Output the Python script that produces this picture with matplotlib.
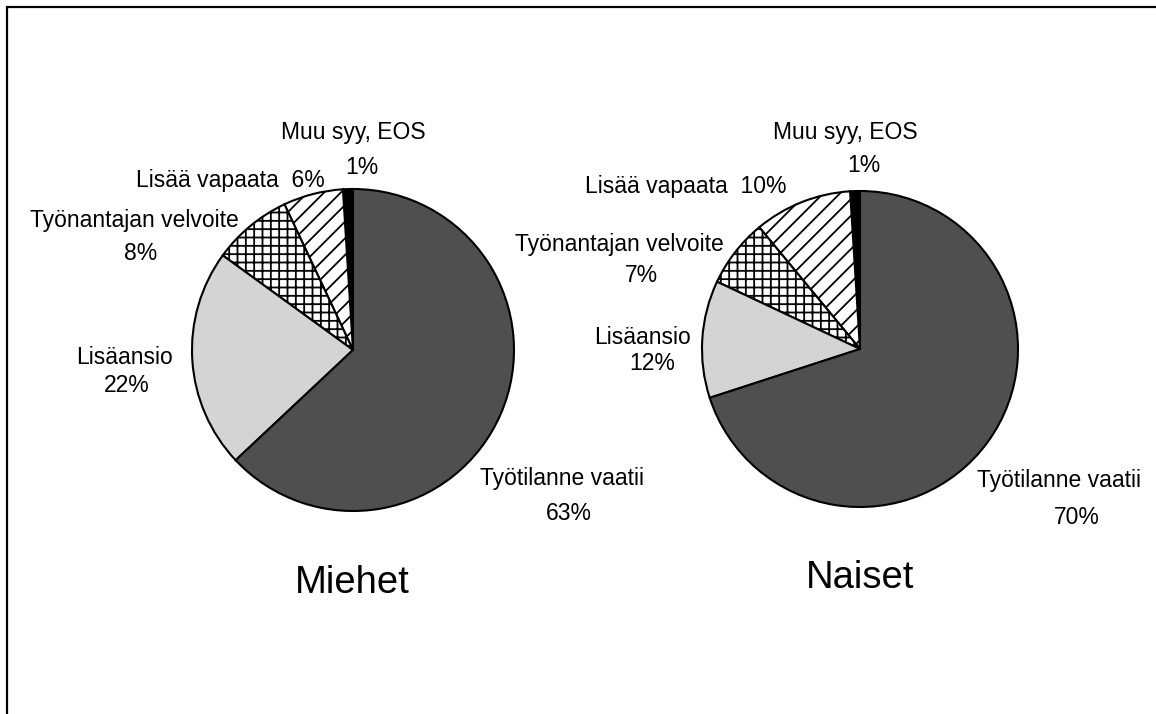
import matplotlib
matplotlib.use("Agg")
import matplotlib.pyplot as plt

# ---- data ----
categories = ["Muu syy, EOS", "Lisää vapaata", "Työnantajan velvoite", "Lisäansio", "Työtilanne vaatii"]
miehet = [1, 6, 8, 22, 63]
naiset = [1, 10, 7, 12, 70]
titles = ["Miehet", "Naiset"]

# ---- styles ----
facecolors = ["black", "white", "white", "#d4d4d4", "#4f4f4f"]
hatches = [None, "//", "++", None, None]

plt.rcParams["font.family"] = ["Liberation Sans", "DejaVu Sans"]
plt.rcParams["hatch.linewidth"] = 1.3

W, H = 1156, 714
fig = plt.figure(figsize=(W / 100, H / 100), dpi=100)
ax = fig.add_axes([0, 0, 1, 1])

def py(y):
    return H - y

pies = [
    dict(values=miehet, title=titles[0], center=(353, 350), r=161,
         title_pos=(352, 583),
         label_pos=[((353, 132), (362, 167)),
                    ((230, 180), None),
                    ((134, 221), (141, 253)),
                    ((124, 357), (127, 386)),
                    ((562, 479), (569, 513))]),
    dict(values=naiset, title=titles[1], center=(860, 349), r=158,
         title_pos=(860, 578),
         label_pos=[((845, 132), (864, 165)),
                    ((686, 187), None),
                    ((619, 245), (641, 275)),
                    ((642, 337), (652, 363)),
                    ((1059, 481), (1077, 517))]),
]

fs_label = 16.5
for p in pies:
    cx, cy = p["center"]
    wedges, _ = ax.pie(p["values"], colors=facecolors, startangle=90, counterclock=True,
                       radius=p["r"], center=(cx, py(cy)),
                       wedgeprops=dict(edgecolor="black", linewidth=1.5))
    for w, h in zip(wedges, hatches):
        if h:
            w.set_hatch(h)
    for cat, val, (npos, ppos) in zip(categories, p["values"], p["label_pos"]):
        if ppos is None:
            ax.text(npos[0], py(npos[1]), f"{cat}  {val}%", ha="center", va="center",
                    fontsize=fs_label)
        else:
            ax.text(npos[0], py(npos[1]), cat, ha="center", va="center", fontsize=fs_label)
            ax.text(ppos[0], py(ppos[1]), f"{val}%", ha="center", va="center", fontsize=fs_label)
    tx, ty = p["title_pos"]
    ax.text(tx, py(ty), p["title"], ha="center", va="center", fontsize=27.5)

# frame (left + top border)
ax.plot([7, 7, W], [0, py(7), py(7)], color="black", linewidth=1.6, clip_on=False,
        solid_joinstyle="miter")

ax.set_xlim(0, W)
ax.set_ylim(0, H)
ax.set_aspect("equal")
ax.axis("off")

fig.savefig("out.png", dpi=100, facecolor="white")
